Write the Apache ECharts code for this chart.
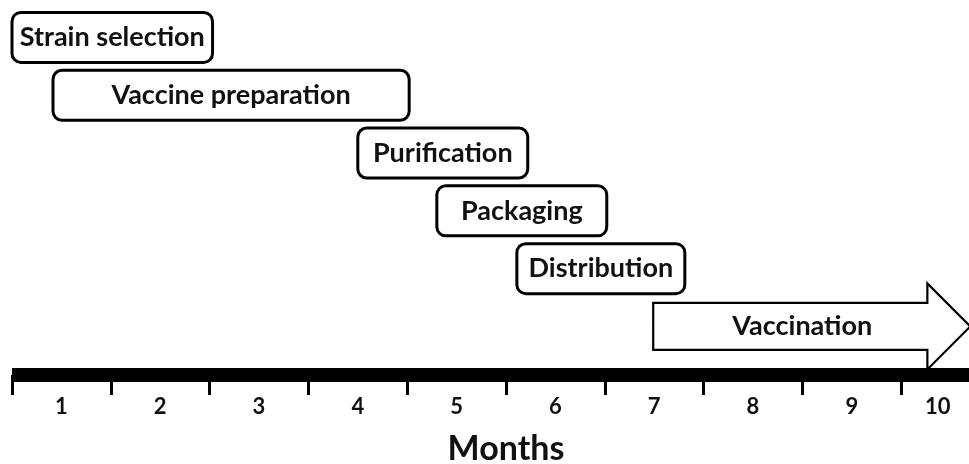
<!DOCTYPE html>
<html>
<head>
<meta charset="utf-8">
<script src="https://cdn.jsdelivr.net/npm/echarts@6/dist/echarts.min.js"></script>
<style>html,body{margin:0;padding:0;background:#fff;}#c{width:969px;height:464px;}</style>
</head>
<body>
<div id="c"></div>
<script>
// Data
const months = ['1','2','3','4','5','6','7','8','9','10'];
const stages = ['Strain selection','Vaccine preparation','Purification','Packaging','Distribution','Vaccination'];
const starts = [0, 0.415, 3.50, 4.30, 5.11, 6.49];   // month where each stage begins
const ends   = [2.03, 4.02, 5.22, 6.02, 6.81, 9.70]; // month where each stage ends
const rows   = [0, 1, 2, 3, 4, 5];

const FONT = 'Lato, "Open Sans", sans-serif';
const chart = echarts.init(document.getElementById('c'), null, {renderer: 'canvas'});

function renderItem(params, api) {
  const i = params.dataIndex;
  const p0 = api.coord([api.value(0), api.value(2)]);
  const p1 = api.coord([api.value(1), api.value(2)]);
  const h = api.size([0, 0.865])[1];
  const cy = p0[1];
  const textStyle = {
    text: stages[i], fill: '#111', fontSize: 27, fontWeight: 'bold', fontFamily: FONT,
    align: 'center', verticalAlign: 'middle'
  };
  if (i === stages.length - 1) {
    const bh = h * 0.47, hh = h * 0.86, hl = 43;
    const hx = p1[0] - hl;
    return {
      type: 'group',
      children: [
        {type: 'polygon', shape: {points: [
          [p0[0], cy - bh], [hx, cy - bh], [hx, cy - hh], [p1[0], cy],
          [hx, cy + hh], [hx, cy + bh], [p0[0], cy + bh]]},
          style: {fill: '#fff', stroke: '#000', lineWidth: 2.2}},
        {type: 'text', style: Object.assign({}, textStyle, {x: (p0[0] + hx) / 2 + 12, y: cy})}
      ]
    };
  }
  return {
    type: 'group',
    children: [
      {type: 'rect', shape: {x: p0[0], y: cy - h / 2, width: p1[0] - p0[0], height: h, r: 9},
        style: {fill: '#fff', stroke: '#000', lineWidth: 3}},
      {type: 'text', style: Object.assign({}, textStyle, {x: (p0[0] + p1[0]) / 2, y: cy})}
    ]
  };
}

chart.setOption({
  animation: false,
  backgroundColor: '#fff',
  grid: {left: 12, top: 0, width: 988, height: 375, outerBoundsMode: 'none', containLabel: false},
  xAxis: [
    {
      type: 'category', data: months, boundaryGap: true, position: 'bottom',
      axisLine: {onZero: false, lineStyle: {color: '#000', width: 14, cap: 'butt'}},
      axisTick: {show: true, length: 20, lineStyle: {color: '#000', width: 3}},
      axisLabel: {margin: 21, color: '#111', fontSize: 22, fontWeight: 'bold', fontFamily: FONT,
        alignMaxLabel: 'right'},
      name: 'Months', nameLocation: 'middle', nameGap: 57,
      nameTextStyle: {color: '#111', fontSize: 34, fontWeight: 'bold', fontFamily: FONT},
      splitLine: {show: false}
    },
    {type: 'value', min: 0, max: 10, show: false, splitLine: {show: false}}
  ],
  yAxis: {type: 'value', min: -0.647, max: 5.84, inverse: true, show: false, splitLine: {show: false}},
  series: [{
    type: 'custom',
    xAxisIndex: 1,
    renderItem: renderItem,
    clip: false,
    data: stages.map((s, i) => [starts[i], ends[i], rows[i]])
  }]
});
</script>
</body>
</html>
